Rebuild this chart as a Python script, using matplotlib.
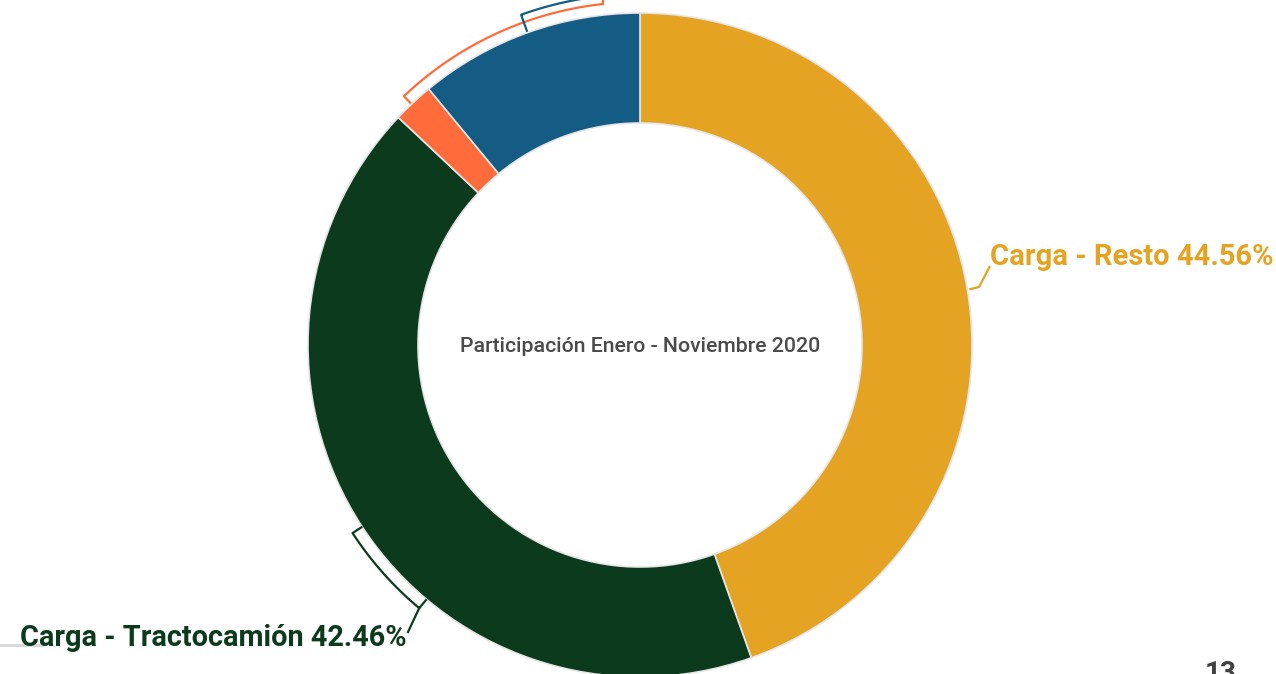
import numpy as np
import matplotlib
matplotlib.use('Agg')
import matplotlib.pyplot as plt

# participación por segmento (en %), en el orden del gráfico (horario desde arriba)
segmentos = ['Carga - Resto', 'Carga - Tractocamión', 'Otro 1', 'Otro 2']
valores = [44.56, 42.46, 2.00, 10.98]
colores = ['#E5A323', '#0B3A1D', '#FF6B3B', '#155C85']
titulo_centro = 'Participación Enero - Noviembre 2020'

plt.rcParams['font.family'] = ['Roboto', 'DejaVu Sans']

W, H = 1276, 674
cx, cy = 640, H - 345      # centro de la dona (coordenadas en pixeles, y hacia arriba)
r_out, ancho = 332, 110

fig = plt.figure(figsize=(W / 100, H / 100), dpi=100)
ax = fig.add_axes([0, 0, 1, 1])

ax.pie(valores, colors=colores, startangle=90, counterclock=False,
       center=(cx, cy), radius=r_out,
       wedgeprops=dict(width=ancho, edgecolor='#e6e6e6', linewidth=1.2))


def pt(theta, r):
    # theta: grados en sentido horario desde las 12
    t = np.radians(theta)
    return cx + r * np.sin(t), cy + r * np.cos(t)


def arco(t1, t2, r):
    ts = np.linspace(t1, t2, 80)
    xs, ys = zip(*[pt(t, r) for t in ts])
    return list(xs), list(ys)


# leader de Carga - Resto
x0, y0 = pt(80.4, r_out + 2)
ax.plot([x0, 979, 990], [y0, H - 287, H - 266], color=colores[0], lw=1.6,
        solid_capstyle='butt')
ax.text(990, H - 265, f'{segmentos[0]} {valores[0]:.2f}%', color=colores[0],
        fontsize=21, fontweight='bold', ha='left', va='baseline')

# corchete + leader de Carga - Tractocamión
xs, ys = arco(236.8, 220.0, 343.5)
xa, ya = pt(236.8, r_out + 1)
xb, yb = pt(220.0, r_out + 1)
ax.plot([xa] + xs + [xb], [ya] + ys + [yb], color=colores[1], lw=1.6)
ax.plot([xs[-1], 408], [ys[-1], H - 632], color=colores[1], lw=1.6)
ax.text(407, H - 646, f'{segmentos[1]} {valores[1]:.2f}%', color=colores[1],
        fontsize=20.8, fontweight='bold', ha='right', va='baseline')

# corchete naranja (etiqueta fuera del recuadro)
xs, ys = arco(316.5, 353.8, 343)
xa, ya = pt(316.5, r_out + 2)
ax.plot([xa] + xs + [xs[-1]], [ya] + ys + [H + 40], color=colores[2], lw=1.6)

# corchete azul (etiqueta fuera del recuadro)
xs, ys = arco(340.2, 352, 351)
xa, ya = pt(340.2, r_out + 2)
ax.plot([xa] + xs + [xs[-1]], [ya] + ys + [H + 40], color=colores[3], lw=1.6)

ax.text(cx, H - 347, titulo_centro, color='#4a4a4a', fontsize=15.3,
        fontweight='medium', ha='center', va='center')

# detalles de la diapositiva
ax.plot([0, 42], [H - 645, H - 645], color='#d9d9d9', lw=2.2)
ax.text(1221, H - 681, '13', color='#404040', fontsize=20, fontweight='bold',
        ha='center', va='baseline')

ax.set_xlim(0, W)
ax.set_ylim(0, H)
ax.set_aspect('equal')
ax.axis('off')

fig.savefig('out.png', dpi=100)
